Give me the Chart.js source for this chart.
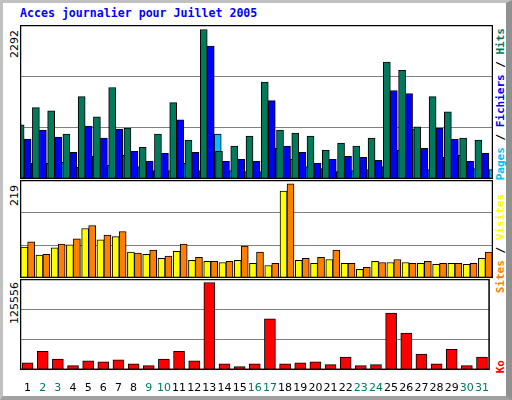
<!DOCTYPE html>
<html><head><meta charset="utf-8">
<script src="https://cdn.jsdelivr.net/npm/chart.js@4"></script>
<style>
body{margin:0;width:512px;height:400px;background:#fff;position:relative;overflow:hidden;font-family:"DejaVu Sans",sans-serif}
#frame{position:absolute;left:0;top:0;width:503px;height:393px;border:3px solid #c0c0c0;border-right:6px solid #909090;border-bottom:4px solid #a0a0a0}
.c{position:absolute}
.vl{position:absolute;writing-mode:vertical-rl;transform:rotate(180deg);font-size:11px;white-space:nowrap}
.vr{position:absolute;writing-mode:vertical-rl;transform:rotate(180deg);font:bold 11px "DejaVu Sans Mono",monospace;white-space:nowrap}
#title{position:absolute;left:20px;top:6px;font:bold 11.6px "DejaVu Sans Mono",monospace;color:#0000ff}
</style></head><body>
<div id="frame"></div>
<div id="title">Acces journalier pour Juillet 2005</div>
<div class="vl" style="left:8px;top:30px">2292</div>
<div class="vl" style="left:8px;top:185px">219</div>
<div class="vl" style="left:8px;top:282px">125556</div>
<div class="vr" style="left:494px;top:28px"><span style="color:#00bfff">Pages</span> / <span style="color:#0000ff">Fichiers</span> / <span style="color:#007a5a">Hits</span></div>
<div class="vr" style="left:494px;top:194px"><span style="color:#ff8000">Sites</span> / <span style="color:#ffff00">Visites</span></div>
<div class="vr" style="left:494px;top:360px"><span style="color:#ff0000">Ko</span></div>
<div class="c" style="left:20px;top:25px;width:473px;height:154px"><canvas id="c1"></canvas></div>
<div class="c" style="left:20px;top:180px;width:473px;height:98px"><canvas id="c2"></canvas></div>
<div class="c" style="left:20px;top:279px;width:473px;height:120px"><canvas id="c3"></canvas></div>
<script>
const days=["1","2","3","4","5","6","7","8","9","10","11","12","13","14","15","16","17","18","19","20","21","22","23","24","25","26","27","28","29","30","31"];
const weekend=[2,3,9,10,16,17,23,24,30,31];
const hits=[829,1093,1046,689,1263,953,1403,782,487,689,1170,596,2292,425,503,658,1485,751,705,658,441,549,503,627,1791,1667,798,1263,1030,627,596];
const files=[611,751,642,410,813,627,767,425,270,394,906,410,2039,270,301,270,1201,503,410,239,301,348,332,285,1356,1310,472,782,611,270,394];
const pages=[239,239,254,177,348,208,363,192,130,130,239,130,689,130,115,115,472,301,192,161,115,130,146,192,441,767,146,332,363,161,146];
const sites=[72,53,70,77,115,89,96,60,55,46,62,41,39,36,41,34,29,202,41,34,43,34,20,39,36,36,34,32,34,32,46];
const visits=[84,55,79,91,122,100,108,58,65,51,79,48,39,39,74,60,34,219,46,48,65,34,25,36,43,34,39,34,34,34,60];
const ko=[10080,26576,15579,5957,12830,11455,14204,8706,5957,15579,26576,12830,125556,8706,4582,8706,73312,8706,10080,11455,7331,18328,5957,7331,81560,52693,22452,8706,29325,5957,18328];

const border={id:'b',afterDraw(c){const a=c.chartArea,x=c.ctx;x.save();x.strokeStyle='#000';x.lineWidth=1.5;x.strokeRect(a.left+0.5,a.top+0.5,a.right-a.left-1,a.bottom-a.top-1);x.restore();}};
function mk(id,sets,max,showX){
  new Chart(document.getElementById(id),{type:'bar',data:{labels:days,datasets:sets},
  options:{responsive:true,maintainAspectRatio:false,animation:false,
   layout:{padding:0},
   plugins:{legend:{display:false},tooltip:{enabled:false}},
   scales:{x:{display:showX,grid:{display:false},border:{display:false},
     ticks:{padding:4,autoSkip:false,maxRotation:0,font:{family:'DejaVu Sans',size:11},
       color:ctx=>weekend.includes(ctx.index+1)?'#007a5a':'#000'}},
    y:{min:0,max:max,afterBuildTicks(ax){ax.ticks=[{value:max/3},{value:2*max/3}];},
      ticks:{display:false},grid:{color:'#808080',lineWidth:1,drawTicks:false},border:{display:false}}}},
  plugins:[border]});
}
const bs={borderColor:'#000',borderWidth:1,borderSkipped:false};
mk('c1',[
 {data:hits,backgroundColor:'#007a5a',categoryPercentage:0.6,barThickness:7,...bs},
 {data:files,backgroundColor:'#0000ff',categoryPercentage:0.6,barThickness:7,...bs},
 {data:pages,backgroundColor:'#00bfff',categoryPercentage:0.6,barThickness:7,...bs}],2292*1.03,false);
mk('c2',[
 {data:sites,backgroundColor:'#ffff00',categoryPercentage:0.72,barThickness:7,...bs},
 {data:visits,backgroundColor:'#ff8000',categoryPercentage:0.72,barThickness:7,...bs}],219*1.04,false);
mk('c3',[
 {data:ko,backgroundColor:'#ff0000',categoryPercentage:0.7,barThickness:11,...bs}],125556*1.04,true);
</script></body></html>
